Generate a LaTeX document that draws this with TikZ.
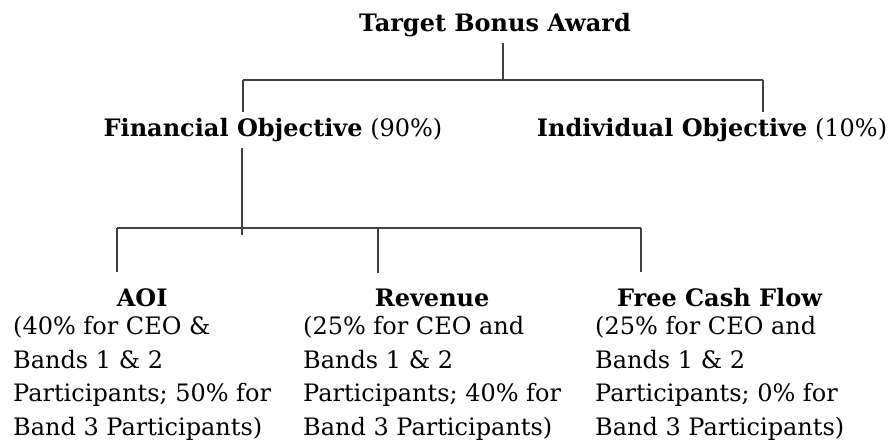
\documentclass[tikz,border=0pt]{standalone}
\usepackage{fontspec}
\setmainfont{DejaVu Serif}
\usepackage{tikz}
\usetikzlibrary{positioning}

\begin{document}
\begin{tikzpicture}[x=1pt, y=-1pt, node distance=4pt, every node/.style={font=\fontsize{24}{33.5}\selectfont, inner sep=0pt}]
\useasboundingbox (0,0) rectangle (892,443);
\tikzset{head/.style={outer sep=6pt}, note/.style={anchor=north west, align=left}, link/.style={line width=1.1pt, black!75}}
\node (award) [head] at (495,25) {\textbf{Target Bonus Award}};
\node (fin) [head] at (273,130) {\textbf{Financial Objective} (90\%)};
\node (ind) [head] at (712,130) {\textbf{Individual Objective} (10\%)};
\node (aoitxt) [note] at (13,316.5) {(40\% for CEO \&\\Bands 1 \& 2\\Participants; 50\% for\\Band 3 Participants)};
\node (revtxt) [note] at (303,316.5) {(25\% for CEO and\\Bands 1 \& 2\\Participants; 40\% for\\Band 3 Participants)};
\node (fcftxt) [note] at (595,316.5) {(25\% for CEO and\\Bands 1 \& 2\\Participants; 0\% for\\Band 3 Participants)};
\node (aoi) [head, above=of aoitxt] {\textbf{AOI}};
\node (rev) [head, above=of revtxt] {\textbf{Revenue}};
\node (fcf) [head, above=of fcftxt] {\textbf{Free Cash Flow}};
% top level
\coordinate (split) at (503,80);
\coordinate (findrop) at (243,80);
\coordinate (inddrop) at (763,80);
\draw[link] (award.south -| split) -- (split);
\draw[link] (findrop) -- (split) -- (inddrop);
\draw[link] (findrop) -- (fin.north -| findrop);
\draw[link] (inddrop) -- (ind.north -| inddrop);
% financial split
\coordinate (finstem) at (242,235);
\coordinate (aoidrop) at (117,228);
\coordinate (revdrop) at (378,228);
\coordinate (fcfdrop) at (641,228);
\draw[link] (fin.south -| finstem) -- (finstem);
\draw[link] (aoidrop) -- (revdrop) -- (fcfdrop);
\draw[link] (aoidrop) -- ([yshift=10pt]aoi.north -| aoidrop);
\draw[link] (revdrop) -- ([yshift=10pt]rev.north -| revdrop);
\draw[link] (fcfdrop) -- ([yshift=10pt]fcf.north -| fcfdrop);
\end{tikzpicture}
\end{document}
